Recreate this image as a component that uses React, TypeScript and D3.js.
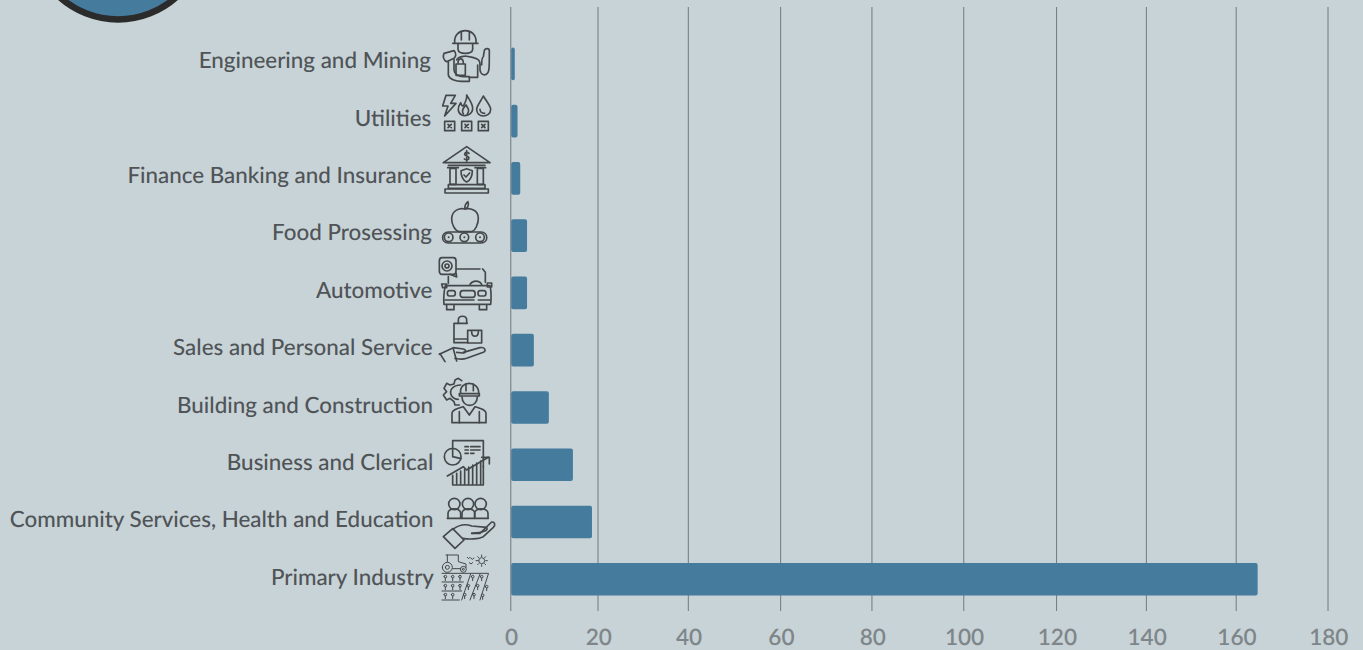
import React, { useEffect, useRef } from 'react';
import * as d3 from 'd3';

const categories = [
  'Engineering and Mining',
  'Utilities',
  'Finance Banking and Insurance',
  'Food Prosessing',
  'Automotive',
  'Sales and Personal Service',
  'Building and Construction',
  'Business and Clerical',
  'Community Services, Health and Education',
  'Primary Industry',
];
const values = [0.9, 1.5, 2.1, 3.6, 3.6, 5.1, 8.4, 13.7, 17.9, 164.5];
const xTicks = [0, 20, 40, 60, 80, 100, 120, 140, 160, 180];
// the gridlines in the original are slightly off the true scale
const tickShift = [0, -3.5, -4, -2.5, -2, -1, 1, 0, -1, 0];

const circlePath = (cx: number, cy: number, r: number) =>
  `M${cx - r} ${cy}a${r} ${r} 0 1 0 ${2 * r} 0a${r} ${r} 0 1 0 ${-2 * r} 0`;
const rectPath = (x: number, y: number, w: number, h: number) => `M${x} ${y}h${w}v${h}h${-w}Z`;
const sprout = (x: number, y: number) => `${circlePath(x, y, 4)}M${x} ${y + 4}v8`;

// icon outlines, in 3x units from the icon's origin
const icons: Record<string, { oy: number; d: string[]; thin?: boolean }> = {
  'Engineering and Mining': {
    oy: 20,
    d: [
      'M68 70H144', 'M74 68C70 20 142 20 138 68', 'M94 36V60M118 36V60', 'M84 72V88C86 104 126 104 128 88V72',
      'M42 100L72 92C80 100 78 110 72 115L50 125C38 118 38 110 42 100Z',
      'M55 125V165C58 178 80 186 100 184H118V170H100C85 170 72 160 72 150V118',
      'M80 120C84 108 100 110 106 108L128 112C148 118 150 122 150 135V150C152 165 165 168 172 160C178 155 178 140 178 92C178 84 165 84 163 92L160 110C155 112 155 120 155 135',
      'M143 135V172H118', rectPath(78, 132, 28, 34), 'M84 130C84 112 100 112 100 130',
    ],
  },
  Utilities: {
    oy: 20,
    d: [
      'M48 226H76L62 250H78L44 288L54 258H38Z',
      'M110 225C118 240 128 250 128 265C128 285 105 290 95 285C82 278 82 262 92 248C94 255 98 258 100 258C105 248 112 238 110 225Z',
      'M100 282C92 270 102 262 108 255C114 265 120 272 112 282',
      'M160 228C170 245 182 258 182 268C182 282 170 288 160 288C148 288 140 280 140 268C140 258 152 245 160 228Z',
      'M150 268C150 276 156 280 164 280',
      rectPath(44, 304, 30, 28), rectPath(95, 304, 30, 28), rectPath(145, 304, 30, 28),
      'M54 313L64 323M64 313L54 323M105 313L115 323M115 313L105 323M155 313L165 323M165 313L155 323',
    ],
  },
  'Finance Banking and Insurance': {
    oy: 20,
    d: [
      'M40 428L110 380L180 428Z', 'M117 400C112 395 104 396 104 403C104 410 117 408 117 414C117 421 107 421 103 417M110 392V424',
      'M55 436H165', rectPath(60, 445, 18, 48), rectPath(142, 445, 18, 48), 'M53 443H85M135 443H167',
      'M110 446L127 452C127 470 122 480 110 486C98 480 93 470 93 452Z', 'M102 465L108 471L119 459',
      rectPath(55, 494, 110, 11), rectPath(45, 507, 130, 12),
    ],
  },
  'Food Prosessing': {
    oy: 195,
    d: [
      'M105 42C90 38 65 45 65 72C65 88 75 108 88 110H125C135 108 145 88 145 70C145 45 120 38 105 42Z',
      'M105 42C103 32 108 25 114 20C118 32 112 40 105 42',
      'M55 111H153C176 111 176 144 153 144H55C32 144 32 111 55 111Z',
      circlePath(56, 127, 13), circlePath(103, 127, 13), circlePath(150, 127, 13),
      circlePath(56, 127, 0.5), circlePath(103, 127, 0.5), circlePath(150, 127, 0.5),
    ],
  },
  Automotive: {
    oy: 195,
    d: [
      'M36 188H70C76 188 78 192 78 198V228C78 234 76 238 70 238H36C30 238 28 234 28 228V198C28 192 30 188 36 188Z',
      circlePath(51, 213, 15), circlePath(51, 213, 6), 'M60 238L80 246L78 234',
      'M80 222H150M158 222L166 232V262', 'M55 245V265', 'M120 268C128 255 148 255 155 268',
      'M46 272H180C184 290 184 310 182 328H42C40 310 42 290 46 272Z',
      'M35 267H50V278H38ZM172 264H185V276H172Z',
      'M58 287H70C78 287 78 303 70 303H58C50 303 50 287 58 287Z',
      'M98 287H128C138 287 138 307 128 307H98C88 307 88 287 98 287Z',
      'M150 287H162C170 287 170 303 162 303H150C142 303 142 287 150 287Z',
      'M45 315H132M145 315H180', 'M50 330V344H72V330M148 330V344H170V330',
    ],
  },
  'Sales and Personal Service': {
    oy: 195,
    d: [
      'M112 385H72V443H113', 'M85 385V375C85 360 110 360 110 375V385', 'M72 432H112',
      rectPath(113, 406, 42, 38), 'M125 410C125 428 145 428 145 410',
      'M28 478L70 458L100 462C110 464 108 474 98 474L80 472',
      'M100 472L150 458C165 455 170 468 160 472L110 490C95 495 85 492 75 490',
      'M30 476L45 500M70 462L80 498',
    ],
  },
  'Building and Construction': {
    oy: 370,
    d: [
      'M95 32L85 25L75 30L72 42L60 45L50 40L42 55L50 65L40 75L50 90L60 85L72 95L75 105L88 105',
      'M92 45C70 45 55 60 65 78C70 85 80 88 85 88',
      'M92 70C86 30 148 30 146 70', rectPath(88, 71, 60, 7), 'M108 42V62M130 42V62',
      'M96 80C96 115 142 115 142 80',
      'M66 158V130C66 118 85 115 100 110L118 135L135 110C150 115 168 118 168 130V158Z',
      'M88 125V158M148 125V158',
    ],
  },
  'Business and Clerical': {
    oy: 370,
    d: [
      'M68 232V212H160V290', 'M105 230H115M122 230H150M105 240H115M122 240H150M105 250H115M122 250H132',
      circlePath(68, 260, 25), 'M68 260V235M68 260L93 266',
      'M68 345H160M68 345V316M80 345V310M92 345V303M104 345V297M116 345V291M128 345V285M140 345V279M152 345V273M160 345V288',
      'M52 318L100 290L110 300L175 262', 'M155 262H178V282',
    ],
  },
  'Community Services, Health and Education': {
    oy: 370,
    d: [
      circlePath(73, 402, 17), circlePath(114, 402, 17), circlePath(152, 402, 17),
      'M54 445V430C54 412 92 412 92 430V445', 'M96 445V430C96 412 134 412 134 430V445', 'M134 445V430C134 412 174 412 174 430V445',
      'M52 445H175',
      'M40 500L68 476L102 510L75 535Z',
      'M68 478C90 462 110 462 125 468L170 472C175 480 165 488 125 490',
      'M125 490H150L185 456C195 455 197 465 190 472L160 500C145 508 115 508 98 505',
    ],
  },
  'Primary Industry': {
    oy: 370,
    thin: true,
    d: [
      'M48 555H85V575L108 582V592', 'M52 555V575', circlePath(52, 592, 15), circlePath(52, 592, 6),
      circlePath(100, 598, 9), circlePath(100, 598, 3), 'M68 596H90',
      'M112 562l4 4l4-4M122 564l5 4l5-4M118 578l5 4l5-4',
      circlePath(155, 572, 9), 'M155 555v5M155 584v5M138 572h5M167 572h5M143 560l3 3M164 581l3 3M143 584l3-3M164 563l3-3',
      'M36 610H175M36 636H100M36 663H95M36 690H88',
      'M122 612L95 690M150 612L120 690M175 612L150 690',
      sprout(46, 620), sprout(68, 620), sprout(90, 620),
      sprout(46, 647), sprout(68, 647), sprout(90, 647),
      sprout(46, 674), sprout(68, 674),
      sprout(128, 620), sprout(155, 620), sprout(115, 647), sprout(143, 647), sprout(170, 650),
      sprout(104, 674), sprout(132, 674), sprout(158, 676),
    ],
  },
};

const App = () => {
  const svgRef = useRef<SVGSVGElement>(null);

  useEffect(() => {
    const width = 1363;
    const height = 650;
    const bg = '#c7d3d7';
    const blue = '#457b9d';

    const svg = d3.select(svgRef.current);
    svg.selectAll('*').remove();
    svg.attr('width', width).attr('height', height)
      .style('position', 'absolute').style('left', 0).style('top', 0)
      .style('background', bg)
      .style('text-rendering', 'geometricPrecision');

    const x = d3.scaleLinear().domain([0, 180]).range([510.7, 1328]);
    const y = d3.scaleBand().domain(categories).range([35.2, 607.9]).paddingInner(0.43).paddingOuter(0.215);

    // badge cut off by the top of the picture
    svg.append('circle').attr('cx', 118).attr('cy', -68).attr('r', 87.4)
      .attr('fill', blue).attr('stroke', '#2b2b2b').attr('stroke-width', 6.5);

    // gridlines
    svg.append('g').selectAll('line').data(xTicks).enter().append('line')
      .attr('x1', (d, i) => x(d) + tickShift[i])
      .attr('x2', (d, i) => x(d) + tickShift[i])
      .attr('y1', 7).attr('y2', 611)
      .attr('stroke', (d) => (d === 0 ? '#8b9295' : '#727a7d'))
      .attr('stroke-width', (d) => (d === 0 ? 1.4 : 1));

    // bars
    svg.append('g').selectAll('rect').data(categories).enter().append('rect')
      .attr('x', x(0) + 0.5)
      .attr('y', (d) => y(d)!)
      .attr('width', (d, i) => x(values[i]) - x(0) - 0.5)
      .attr('height', y.bandwidth())
      .attr('rx', 2)
      .attr('fill', blue);

    // tick labels
    svg.append('g').selectAll('text').data(xTicks).enter().append('text')
      .attr('x', (d, i) => x(d) + tickShift[i] + 0.8)
      .attr('y', 645)
      .attr('text-anchor', 'middle')
      .style('font-family', 'Lato')
      .style('font-size', '22.6px')
      .style('font-weight', 600)
      .style('fill', '#7f8689')
      .text((d) => d);

    // category labels, these drift right and down a little
    svg.append('g').selectAll('text').data(categories).enter().append('text')
      .attr('x', (d, i) => 431 + i * 0.33)
      .attr('y', (d, i) => y(d)! + y.bandwidth() / 2 - 3.5 + i * 0.13)
      .attr('dy', '0.35em')
      .attr('text-anchor', 'end')
      .style('font-family', 'Lato')
      .style('font-size', '22.4px')
      .style('font-weight', 500)
      .style('fill', '#505457')
      .text((d) => d);

    // icons
    const iconG = svg.append('g').selectAll('g').data(categories).enter().append('g')
      .attr('transform', (d) => `translate(430,${icons[d].oy}) scale(${1 / 3})`)
      .attr('fill', 'none')
      .attr('stroke', '#45484a')
      .attr('stroke-linejoin', 'round')
      .attr('stroke-linecap', 'round')
      .attr('stroke-width', (d) => (icons[d].thin ? 3 : 5));
    iconG.selectAll('path').data((d) => icons[d].d).enter().append('path').attr('d', (d) => d);
  }, []);

  return <svg ref={svgRef}></svg>;
};

export default App;
